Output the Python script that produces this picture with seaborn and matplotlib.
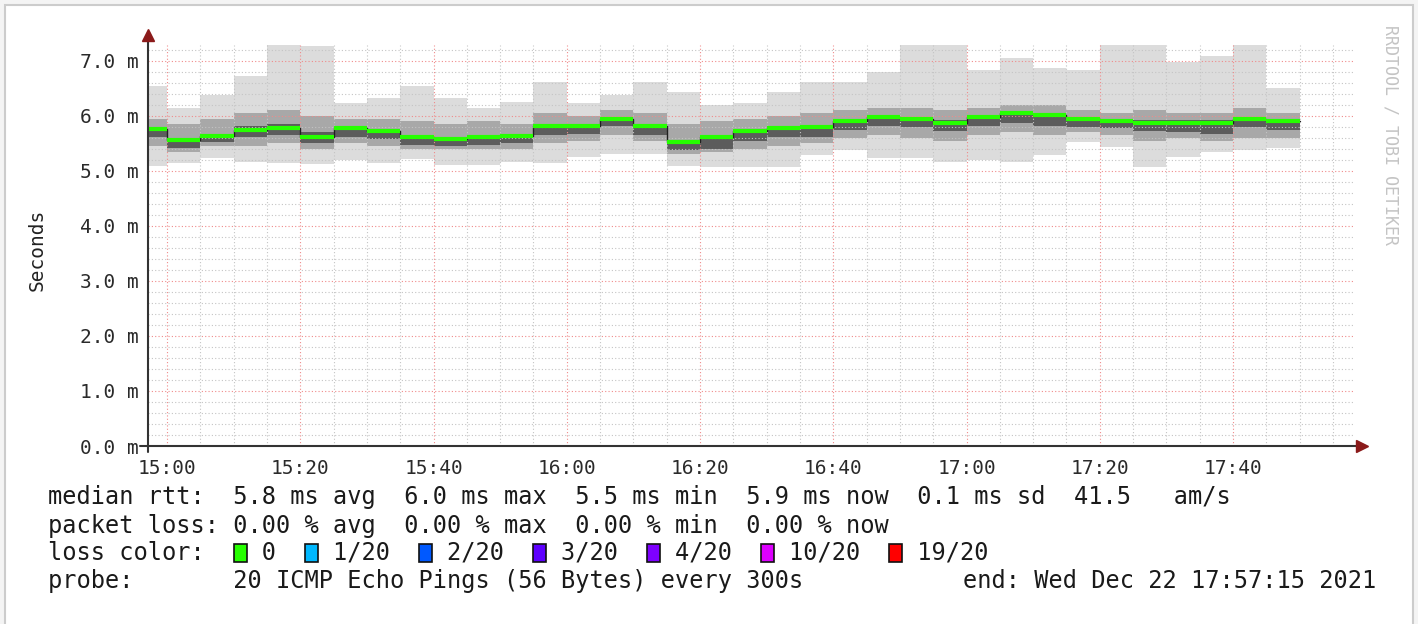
import matplotlib
matplotlib.use("Agg")
import matplotlib.pyplot as plt
import matplotlib.dates as mdates
import matplotlib.ticker as mticker
from matplotlib.patches import Rectangle
import pandas as pd
import seaborn as sns

sns.set_style("white")
plt.rcParams["font.family"] = ["DejaVu Sans Mono", "DejaVu Sans"]

# 5 minute bins, the first one is cut by the left edge of the graph
bin_start = pd.date_range("2021-12-22 14:55", periods=35, freq="5min")
bin_end = bin_start + pd.Timedelta(minutes=5)

# round trip times in ms
median_ms = [5.76, 5.56, 5.64, 5.75, 5.78, 5.62, 5.78, 5.73, 5.62, 5.59,
             5.62, 5.64, 5.82, 5.82, 5.95, 5.82, 5.53, 5.61, 5.72, 5.79,
             5.80, 5.90, 5.99, 5.95, 5.88, 5.99, 6.05, 6.01, 5.94, 5.90,
             5.88, 5.88, 5.87, 5.94, 5.90]
core_lo_ms = [5.62, 5.42, 5.52, 5.62, 5.65, 5.50, 5.62, 5.58, 5.48, 5.45,
              5.48, 5.50, 5.65, 5.68, 5.82, 5.66, 5.38, 5.40, 5.55, 5.62,
              5.62, 5.75, 5.82, 5.80, 5.72, 5.82, 5.88, 5.82, 5.80, 5.78,
              5.72, 5.70, 5.68, 5.80, 5.75]
core_hi_ms = [5.80, 5.60, 5.68, 5.82, 5.85, 5.70, 5.82, 5.76, 5.66, 5.62,
              5.66, 5.66, 5.86, 5.86, 5.98, 5.86, 5.56, 5.64, 5.76, 5.82,
              5.84, 5.94, 6.02, 5.98, 5.92, 6.02, 6.08, 6.04, 5.97, 5.93,
              5.92, 5.92, 5.92, 5.98, 5.93]
p25_ms = [5.45, 5.35, 5.45, 5.45, 5.50, 5.40, 5.50, 5.45, 5.40, 5.40,
          5.40, 5.40, 5.50, 5.55, 5.65, 5.55, 5.30, 5.35, 5.40, 5.45,
          5.50, 5.60, 5.65, 5.60, 5.55, 5.65, 5.70, 5.65, 5.70, 5.65,
          5.55, 5.60, 5.55, 5.60, 5.60]
p75_ms = [5.95, 5.85, 5.95, 6.05, 6.10, 6.00, 5.95, 5.95, 5.90, 5.85,
          5.90, 5.85, 6.05, 6.00, 6.10, 6.05, 5.85, 5.90, 5.95, 6.00,
          6.05, 6.10, 6.15, 6.15, 6.10, 6.15, 6.20, 6.20, 6.10, 6.05,
          6.10, 6.05, 6.05, 6.15, 6.05]
min_ms = [5.09, 5.15, 5.24, 5.16, 5.15, 5.13, 5.20, 5.15, 5.22, 5.11,
          5.11, 5.16, 5.15, 5.25, 5.31, 5.31, 5.09, 5.07, 5.07, 5.07,
          5.29, 5.38, 5.24, 5.24, 5.16, 5.20, 5.16, 5.29, 5.53, 5.43,
          5.07, 5.25, 5.35, 5.38, 5.42]
max_ms = [6.55, 6.15, 6.38, 6.73, 7.29, 7.27, 6.24, 6.33, 6.55, 6.33,
          6.15, 6.25, 6.62, 6.24, 6.38, 6.62, 6.44, 6.20, 6.24, 6.44,
          6.62, 6.62, 6.80, 7.29, 7.29, 6.84, 7.05, 6.87, 6.84, 7.29,
          7.29, 6.98, 7.09, 7.29, 6.51]

loss_labels = ["0", "1/20", "2/20", "3/20", "4/20", "10/20", "19/20"]
loss_colors = ["#26ff00", "#00b8ff", "#0059ff", "#5e00ff", "#7e00ff", "#dd00ff", "#ff0000"]

rtt_line = "median rtt:  5.8 ms avg  6.0 ms max  5.5 ms min  5.9 ms now  0.1 ms sd  41.5   am/s"
loss_line = "packet loss: 0.00 % avg  0.00 % max  0.00 % min  0.00 % now"
probe_line = "probe:       20 ICMP Echo Pings (56 Bytes) every 300s"
end_line = "end: Wed Dec 22 17:57:15 2021"

W, H = 1418, 624
fig = plt.figure(figsize=(W / 100, H / 100), dpi=100)
fig.patch.set_facecolor("#f4f4f4")
fig.patches.append(Rectangle((5 / W, -0.01), (W - 10) / W, (H - 5) / H + 0.01,
                             transform=fig.transFigure, facecolor="white",
                             edgecolor="#cccccc", lw=1.5, zorder=-1))

ax = fig.add_axes([148 / W, 178 / H, 1207 / W, 401 / H])
ax.set_facecolor("white")

# step data, repeat the last value so the last bin is drawn to its end
x_step = list(bin_start) + [bin_end[-1]]
def stepped(v):
    return list(v) + [v[-1]]

# smoke, light outside, dark near the median
ax.fill_between(x_step, stepped(min_ms), stepped(max_ms), step="post",
                color="#dcdcdc", lw=0, zorder=1)
ax.fill_between(x_step, stepped(p25_ms), stepped(p75_ms), step="post",
                color="#a8a8a8", lw=0, zorder=1.1)
ax.fill_between(x_step, stepped(core_lo_ms), stepped(core_hi_ms), step="post",
                color="#5c5c5c", lw=0, zorder=1.2)

# median: thin dark step line + green strip per bin
sns.lineplot(x=x_step, y=stepped(median_ms), drawstyle="steps-post",
             color="#202020", lw=1, ax=ax, zorder=3)
ax.hlines(median_ms, bin_start, bin_end, color=loss_colors[0], lw=3, zorder=4)

t0 = pd.Timestamp("2021-12-22 15:00")
ax.set_xlim(t0 - pd.Timedelta(minutes=2.85), t0 + pd.Timedelta(minutes=178.3))
ax.set_ylim(0, 7.29)

# grid on top of the smoke like rrdtool
ax.set_axisbelow(False)
ax.xaxis.set_major_locator(mdates.MinuteLocator(byminute=[0, 20, 40]))
ax.xaxis.set_minor_locator(mdates.MinuteLocator(byminute=range(0, 60, 5)))
ax.xaxis.set_major_formatter(mdates.DateFormatter("%H:%M"))
ax.yaxis.set_major_locator(mticker.MultipleLocator(1.0))
ax.yaxis.set_minor_locator(mticker.MultipleLocator(0.2))
ax.yaxis.set_major_formatter(mticker.FuncFormatter(lambda v, p: f"{v:.1f} m"))
ax.grid(which="major", color="#f08a8a", ls=(0, (1, 2)), lw=0.8, zorder=2)
ax.grid(which="minor", color="#c4c4c4", ls=(0, (1, 2)), lw=0.8, zorder=2)

for s in ax.spines.values():
    s.set_visible(False)
ax.tick_params(axis="both", which="both", direction="out", colors="#2a2a2a",
               labelsize=14, length=3)
ax.tick_params(axis="x", which="major", color="#e06060", pad=6)
ax.tick_params(axis="x", which="minor", color="#bbbbbb")
ax.tick_params(axis="y", which="minor", length=2, color="#bbbbbb")
ax.set_xlabel("")
ax.set_ylabel("")

# axis lines with the dark red arrow heads
ax.plot([-8 / 1207, 1.004], [0, 0], transform=ax.transAxes, color="#333333",
        lw=1.5, clip_on=False, zorder=6)
ax.plot([0, 0], [-6 / 401, 1.02], transform=ax.transAxes, color="#333333",
        lw=1.5, clip_on=False, zorder=6)
ax.plot([1.006], [0], marker=">", ms=8, color="#8b1a1a", transform=ax.transAxes,
        clip_on=False, zorder=7)
ax.plot([0], [1.025], marker="^", ms=8, color="#8b1a1a", transform=ax.transAxes,
        clip_on=False, zorder=7)

fig.text(37 / W, 1 - 250 / H, "Seconds", rotation=90, ha="center", va="center",
         fontsize=14, color="#222222")
fig.text(1390 / W, 1 - 135 / H, "RRDTOOL / TOBI OETIKER", rotation=270,
         ha="center", va="center", fontsize=12, color="#c4c4c4")

# legend block
fs = 17
x0 = 48 / W
fig.text(x0, 1 - 497 / H, rtt_line, fontsize=fs, va="center", color="#1a1a1a")
fig.text(x0, 1 - 526 / H, loss_line, fontsize=fs, va="center", color="#1a1a1a")
fig.text(x0, 1 - 581 / H, probe_line, fontsize=fs, va="center", color="#1a1a1a")
fig.text(1376 / W, 1 - 581 / H, end_line, fontsize=fs, va="center", ha="right",
         color="#1a1a1a")

color_line = "loss color:  "
box_pos = []
for lab in loss_labels:
    box_pos.append(len(color_line))
    color_line += "  " + lab + "  "
color_line = color_line.rstrip()
fig.text(x0, 1 - 553 / H, color_line, fontsize=fs, va="center", color="#1a1a1a")

# measure one monospace character to place the colour boxes
renderer = fig.canvas.get_renderer()
probe = fig.text(0, 0, "M" * 20, fontsize=fs)
cw = probe.get_window_extent(renderer).width / 20
probe.remove()
for pos, col in zip(box_pos, loss_colors):
    bx = 48 + pos * cw + 0.05 * cw
    fig.patches.append(Rectangle((bx / W, 1 - 562 / H), 0.9 * cw / W, 18 / H,
                                 transform=fig.transFigure, facecolor=col,
                                 edgecolor="#111111", lw=1.2, zorder=5))

fig.savefig("out.png", dpi=100)
